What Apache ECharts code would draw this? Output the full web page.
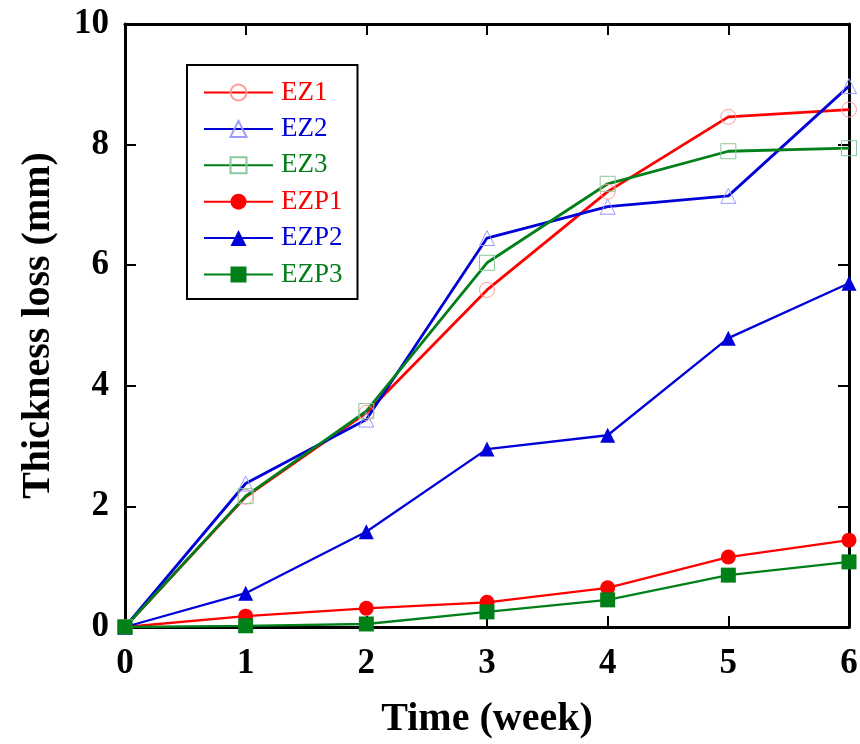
<!DOCTYPE html>
<html>
<head>
<meta charset="utf-8">
<script src="https://cdn.jsdelivr.net/npm/echarts@6/dist/echarts.min.js"></script>
<style>html,body{margin:0;padding:0;background:#fff}#c{width:860px;height:744px}</style>
</head>
<body>
<div id="c"></div>
<script>
var weeks = [0, 1, 2, 3, 4, 5, 6];
var xTicks = [0, 1, 2, 3, 4, 5, 6];
var yTicks = [0, 2, 4, 6, 8, 10];
var seriesNames = ['EZ1', 'EZ2', 'EZ3', 'EZP1', 'EZP2', 'EZP3'];
var EZ1 = [0, 2.16, 3.55, 5.59, 7.22, 8.46, 8.58];
var EZ2 = [0, 2.38, 3.44, 6.45, 6.97, 7.15, 8.97];
var EZ3 = [0, 2.17, 3.58, 6.04, 7.35, 7.89, 7.94];
var EZP1 = [0, 0.18, 0.31, 0.41, 0.65, 1.16, 1.44];
var EZP2 = [0, 0.56, 1.58, 2.95, 3.18, 4.79, 5.70];
var EZP3 = [0, 0.02, 0.05, 0.25, 0.45, 0.86, 1.08];

var FONT = "'Liberation Serif','Times New Roman',Times,serif";
var RED = '#ff0000', BLUE = '#0000d8', GREEN = '#008018';
var nameColors = [RED, BLUE, GREEN, RED, BLUE, GREEN];

function pairs(v) { return weeks.map(function (w, i) { return [w, v[i]]; }); }

function openSeries(name, data, color, light, symbol) {
  return {
    name: name, type: 'line', xAxisIndex: 0, yAxisIndex: 0,
    data: pairs(data), symbol: symbol, symbolSize: 15,
    lineStyle: { color: color, width: 2.8 },
    itemStyle: { color: 'rgba(255,255,255,0)', borderColor: light, borderWidth: 1 },
    emphasis: { disabled: true }, z: 2
  };
}
function fillSeries(name, data, color, symbol, size) {
  return {
    name: name, type: 'line', xAxisIndex: 0, yAxisIndex: 0,
    data: pairs(data), symbol: symbol, symbolSize: size,
    lineStyle: { color: color, width: 2.3 },
    itemStyle: { color: color, borderWidth: 0 },
    emphasis: { disabled: true }, z: 3
  };
}

var chart = echarts.init(document.getElementById('c'));
var axisLine = { show: true, onZero: false, lineStyle: { color: '#000', width: 3 } };
var tick = { show: true, inside: true, length: 11, lineStyle: { color: '#000', width: 2 } };
var labelStyle = { color: '#000', fontFamily: FONT, fontWeight: 'bold', fontSize: 35 };

chart.setOption({
  animation: false,
  backgroundColor: '#fff',
  grid: { left: 125, right: 11, top: 24, bottom: 117, containLabel: false, outerBoundsMode: 'none' },
  legend: {
    orient: 'vertical', left: 187, top: 65,
    padding: [14, 15, 11, 16],
    borderColor: '#000', borderWidth: 2,
    itemWidth: 69, itemHeight: 20, itemGap: 9.4,
    selectedMode: false,
    textStyle: { fontFamily: FONT, fontSize: 27, lineHeight: 26, padding: [0, 0, 0, 3] },
    data: seriesNames.map(function (n, i) { return { name: n, textStyle: { color: nameColors[i] } }; })
  },
  xAxis: [{
    type: 'value', position: 'bottom', min: xTicks[0], max: xTicks[xTicks.length - 1], interval: 1,
    axisLine: axisLine, axisTick: tick, splitLine: { show: false },
    axisLabel: Object.assign({ margin: 19 }, labelStyle),
    name: 'Time (week)', nameLocation: 'middle', nameGap: 73,
    nameTextStyle: { color: '#000', fontFamily: FONT, fontWeight: 'bold', fontSize: 40 }
  }, {
    type: 'value', position: 'top', min: xTicks[0], max: xTicks[xTicks.length - 1], interval: 1,
    axisLine: axisLine, axisTick: tick, splitLine: { show: false }, axisLabel: { show: false }
  }],
  yAxis: [{
    type: 'value', position: 'left', min: yTicks[0], max: yTicks[yTicks.length - 1], interval: 2,
    axisLine: axisLine, axisTick: tick, splitLine: { show: false },
    axisLabel: Object.assign({ margin: 16 }, labelStyle),
    name: 'Thickness loss (mm)', nameLocation: 'middle', nameGap: 66,
    nameTextStyle: { color: '#000', fontFamily: FONT, fontWeight: 'bold', fontSize: 40 }
  }, {
    type: 'value', position: 'right', min: yTicks[0], max: yTicks[yTicks.length - 1], interval: 2,
    axisLine: axisLine, axisTick: tick, splitLine: { show: false }, axisLabel: { show: false }
  }],
  series: [
    openSeries('EZ1', EZ1, RED, '#ff9a9a', 'circle'),
    openSeries('EZ2', EZ2, BLUE, '#9a9aff', 'triangle'),
    openSeries('EZ3', EZ3, GREEN, '#8cc89a', 'rect'),
    fillSeries('EZP1', EZP1, RED, 'circle', 15),
    fillSeries('EZP2', EZP2, BLUE, 'triangle', 15),
    fillSeries('EZP3', EZP3, GREEN, 'rect', 15)
  ]
});
</script>
</body>
</html>
